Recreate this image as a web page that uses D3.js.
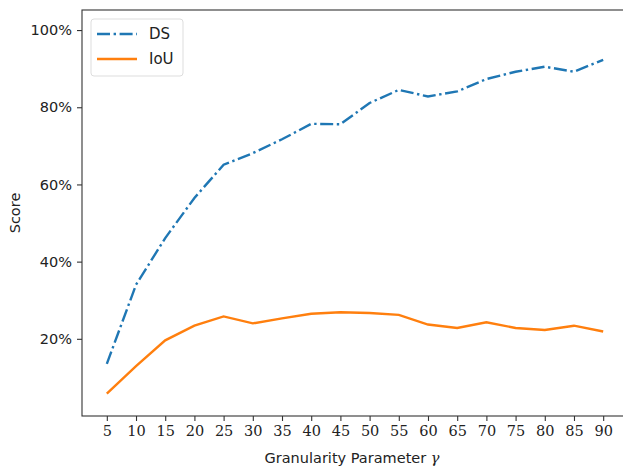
<!DOCTYPE html>
<html>
<head>
<meta charset="utf-8">
<script src="https://cdn.jsdelivr.net/npm/d3@7"></script>
<style>
  body { margin: 0; background: #fff; }
  .ytick text, .legend text, .label { font-family: "DejaVu Sans", sans-serif; }
  .xtick text { font-family: "DejaVu Serif", serif; }
</style>
</head>
<body>
<script>
// granularity values and scores (fraction)
var gammas = [5, 10, 15, 20, 25, 30, 35, 40, 45, 50, 55, 60, 65, 70, 75, 80, 85, 90];
var ds  = [0.135, 0.34, 0.461, 0.565, 0.651, 0.681, 0.717, 0.757, 0.756, 0.811, 0.845, 0.828, 0.841, 0.873, 0.892, 0.905, 0.892, 0.923];
var iou = [0.058, 0.129, 0.196, 0.234, 0.258, 0.240, 0.253, 0.265, 0.269, 0.267, 0.262, 0.237, 0.228, 0.243, 0.228, 0.223, 0.234, 0.219];
var yTicks = [0.2, 0.4, 0.6, 0.8, 1.0];

//Width and height
var w = 623;
var h = 470;
var padL = 82, padT = 10, padR = 628, padB = 416;

var svg = d3.select("body").append("svg").attr("width", w).attr("height", h);

var x = d3.scaleLinear().domain([0.75, 94.25]).range([padL, padR]);
var y = d3.scaleLinear().domain([0, 1.052]).range([padB, padT]);

// data lines
var line = function(vals) {
  return d3.line().x(function(d, i) { return x(gammas[i]); }).y(function(d) { return y(d); })(vals);
};
svg.append("path").attr("d", line(ds)).attr("fill", "none")
  .attr("stroke", "#1f77b4").attr("stroke-width", 2.4)
  .attr("stroke-dasharray", "13,3.6,2.4,3.6");
svg.append("path").attr("d", line(iou)).attr("fill", "none")
  .attr("stroke", "#ff7f0e").attr("stroke-width", 2.4);

// axes
var xAxis = svg.append("g").attr("class", "xtick")
  .attr("transform", "translate(0," + padB + ")")
  .call(d3.axisBottom(x).tickValues(gammas).tickSize(5).tickPadding(5));
var yAxis = svg.append("g").attr("class", "ytick")
  .attr("transform", "translate(" + padL + ",0)")
  .call(d3.axisLeft(y).tickValues(yTicks).tickSize(5).tickPadding(5).tickFormat(d3.format(".0%")));
[xAxis, yAxis].forEach(function(g) {
  g.select(".domain").remove();
  g.selectAll("line").attr("stroke", "#333").attr("stroke-width", 1.1);
  g.selectAll("text").attr("font-size", 14.5).attr("fill", "#222");
});

// frame (right edge falls off the picture)
svg.append("rect").attr("x", padL).attr("y", padT).attr("width", padR - padL).attr("height", padB - padT)
  .attr("fill", "none").attr("stroke", "#333").attr("stroke-width", 1.1);

// labels
svg.append("text").attr("class", "label").attr("x", 352).attr("y", 463)
  .attr("text-anchor", "middle").attr("font-size", 14.5).attr("fill", "#222")
  .text("Granularity Parameter ")
  .append("tspan").attr("font-family", "DejaVu Serif, serif").attr("font-style", "italic").text("γ");
svg.append("text").attr("class", "label")
  .attr("transform", "translate(20,213) rotate(-90)")
  .attr("text-anchor", "middle").attr("font-size", 14.5).attr("fill", "#222").text("Score");

// legend
var legend = svg.append("g").attr("class", "legend");
legend.append("rect").attr("x", 91).attr("y", 19).attr("width", 92).attr("height", 57).attr("rx", 3)
  .attr("fill", "#fff").attr("fill-opacity", 0.8).attr("stroke", "#ddd");
var entries = [["DS", "#1f77b4", "13,3.6,2.4,3.6"], ["IoU", "#ff7f0e", null]];
entries.forEach(function(e, i) {
  var ly = 34 + i * 25;
  legend.append("line").attr("x1", 97).attr("x2", 137).attr("y1", ly).attr("y2", ly)
    .attr("stroke", e[1]).attr("stroke-width", 2.4).attr("stroke-dasharray", e[2]);
  legend.append("text").attr("x", 149).attr("y", ly + 5).attr("font-size", 15).attr("fill", "#222").text(e[0]);
});
</script>
</body>
</html>
